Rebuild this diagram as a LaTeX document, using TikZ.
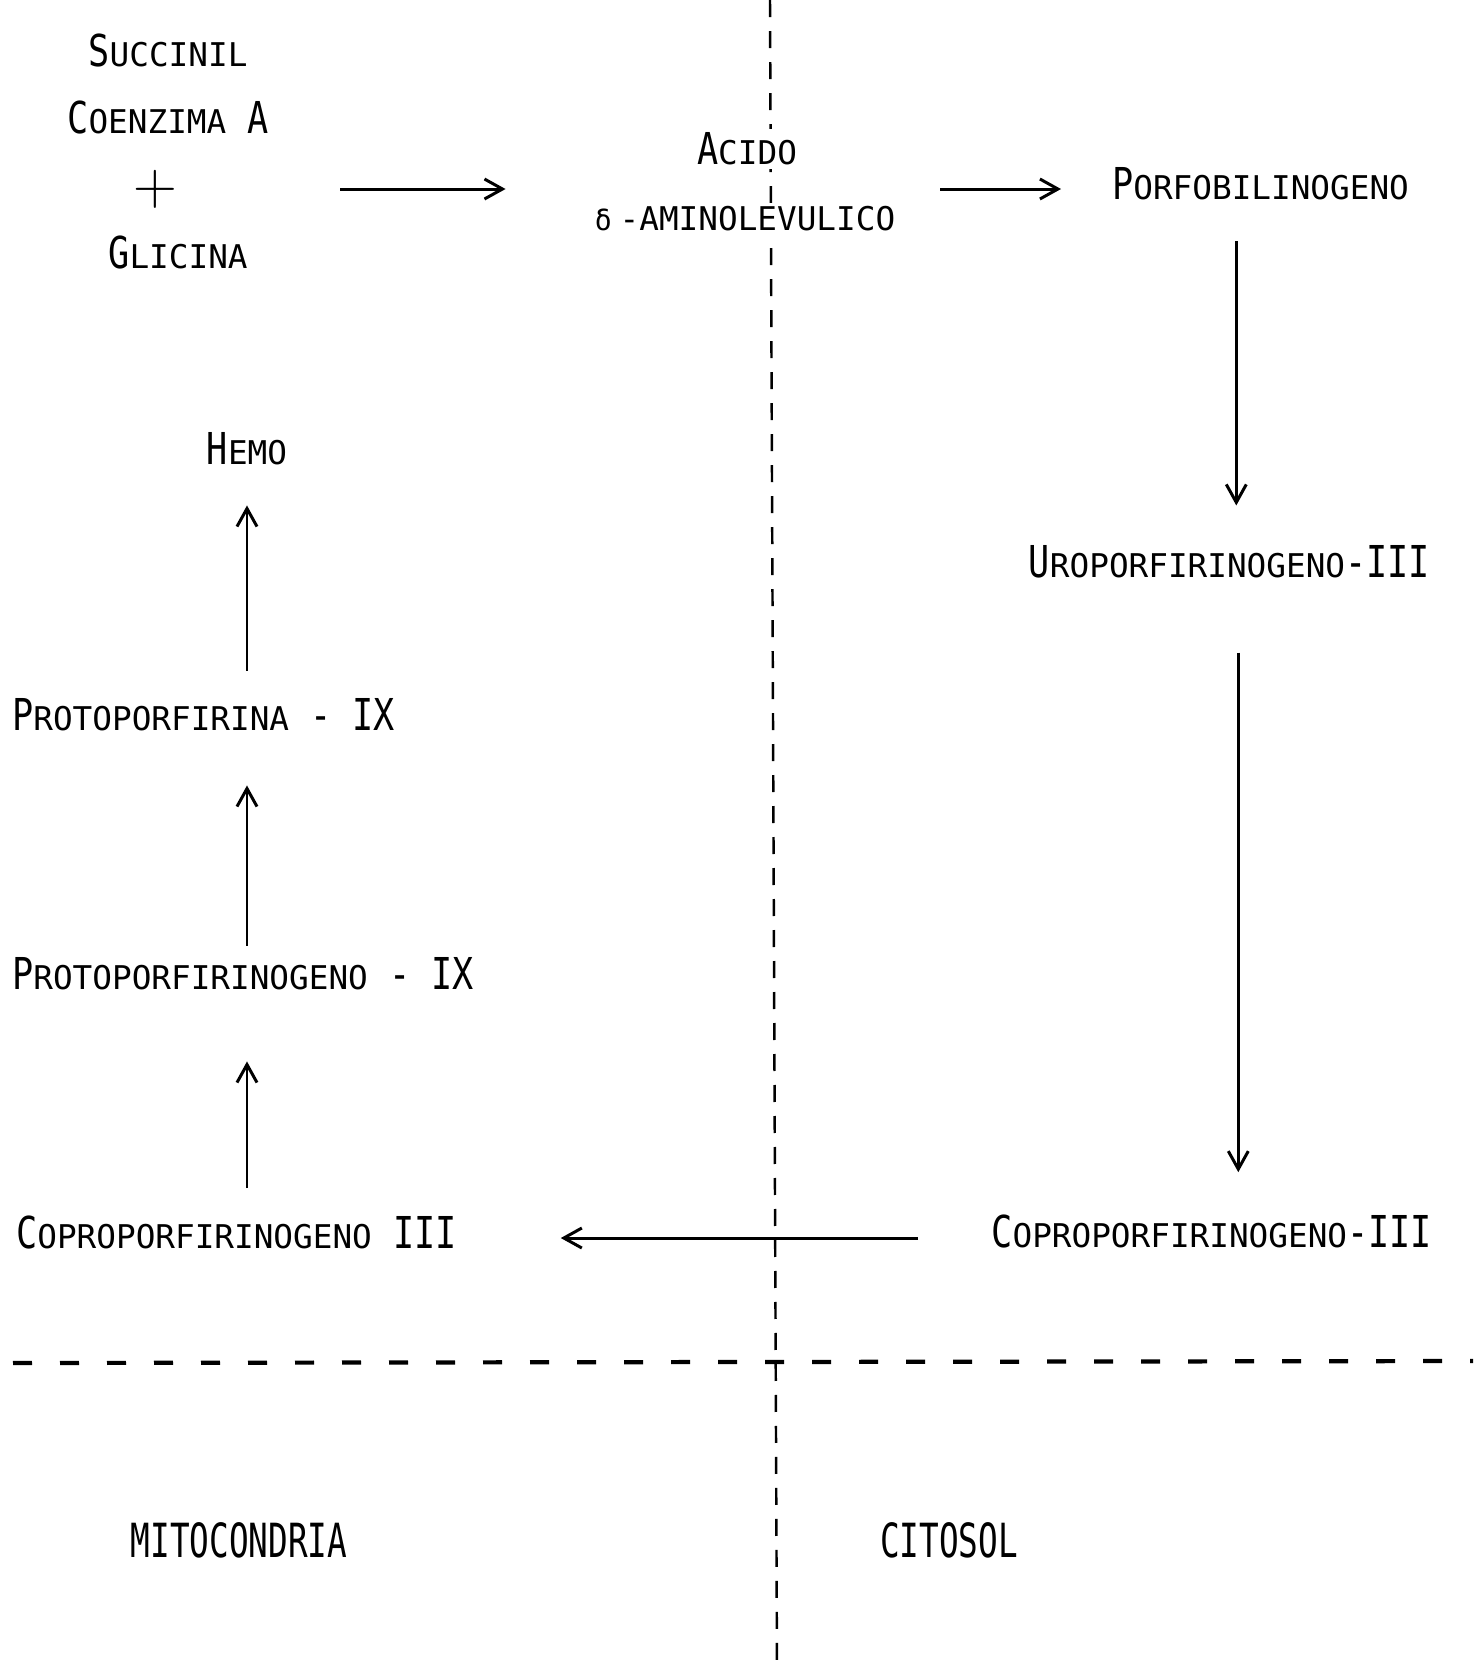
\documentclass[tikz,border=0pt]{standalone}
\usepackage{fontspec}
\setmainfont{DejaVu Sans Mono}
\newfontfamily\capfont{DejaVu Sans Mono}[FakeStretch=0.8]
\usepackage{graphicx}
\usetikzlibrary{arrows.meta, positioning}

\newcommand{\lowcap}[1]{{\normalfont\fontsize{9.3pt}{11pt}\selectfont #1}}

\begin{document}
\begin{tikzpicture}[
  chem/.style={font=\capfont\fontsize{12.5pt}{15pt}\selectfont, inner sep=1pt, fill=white},
  region/.style={font=\fontsize{9.3pt}{11pt}\selectfont, inner sep=1pt},
  flow/.style={-{Straight Barb[length=1.8mm, width=2mm]}, line width=0.85pt},
]
\useasboundingbox (0,0) rectangle (14.81,-16.73);

% Compartments
\draw[line width=0.7pt, dash pattern=on 0.17cm off 0.14cm] (7.70,0) -- (7.77,-16.73);
\draw[line width=1.2pt, dash pattern=on 0.19cm off 0.28cm] (0.13,-13.63) -- (14.73,-13.61);

% Substrates
\node[chem] (succ) at (1.68,-0.50) {S\lowcap{UCCINIL}};
\node[chem] (coa) at (1.68,-1.17) {C\lowcap{OENZIMA} A};
\node[chem, font=\fontsize{16pt}{16pt}\selectfont] (plus) at (1.55,-1.89) {$+$};
\node[chem] (gli) at (1.78,-2.52) {G\lowcap{LICINA}};

% Cytosol
\node[chem] (acido) at (7.47,-1.49) {A\lowcap{CIDO}};
\node[chem] (ala) at (7.45,-2.19) {{\normalfont\fontsize{8pt}{9pt}\selectfont δ}\hspace{0.08cm}\lowcap{-AMINOLEVULICO}};
\node[chem, anchor=west] (porfo) at (11.08,-1.84) {P\lowcap{ORFOBILINOGENO}};
\node[chem, anchor=east] (uro) at (14.34,-5.62) {U\lowcap{ROPORFIRINOGENO}-III};
\node[chem, anchor=east] (coproR) at (14.36,-12.31) {C\lowcap{OPROPORFIRINOGENO}-III};

% Mitochondria
\node[chem, anchor=west] (coproL) at (0.12,-12.32) {C\lowcap{OPROPORFIRINOGENO} III};
\node[chem, anchor=west] (protogeno) at (0.08,-9.74) {P\lowcap{ROTOPORFIRINOGENO} - IX};
\node[chem, anchor=west] (protina) at (0.08,-7.15) {P\lowcap{ROTOPORFIRINA} - IX};
\node[chem] (hemo) at (2.47,-4.49) {H\lowcap{EMO}};

% Flow
\draw[flow, shorten <=1.59cm, shorten >=0.85cm] (plus.east) -- (plus.east -| ala.west);
\draw[flow, shorten <=0.41cm, shorten >=0.47cm] (ala.east |- plus) -- (porfo.west |- plus);
\draw[flow, shorten <=0.37cm, shorten >=0.36cm] ([xshift=0.07cm]uro.north |- porfo.south) -- ([xshift=0.07cm]uro.north);
\draw[flow, shorten <=0.70cm, shorten >=0.38cm] ([xshift=0.09cm]uro.south) -- ([xshift=0.09cm]uro.south |- coproR.north);
\draw[flow, shorten <=0.69cm, shorten >=1.0cm] ([yshift=-0.07cm]coproR.west) -- ([yshift=-0.07cm]coproR.west -| coproL.east);
\draw[flow, shorten <=0.23cm, shorten >=0.67cm] (coproL.north -| hemo) -- (protogeno.south -| hemo);
\draw[flow, shorten <=0.08cm, shorten >=0.50cm] (protogeno.north -| hemo) -- (protina.south -| hemo);
\draw[flow, shorten <=0.24cm, shorten >=0.36cm] (protina.north -| hemo) -- (hemo.south);

% Regions
\node[region] (mito) at (2.39,-15.40) {\scalebox{1}[1.44]{MITOCONDRIA}};
\node[region] (cito) at (9.49,-15.40) {\scalebox{1}[1.44]{CITOSOL}};
\end{tikzpicture}
\end{document}
